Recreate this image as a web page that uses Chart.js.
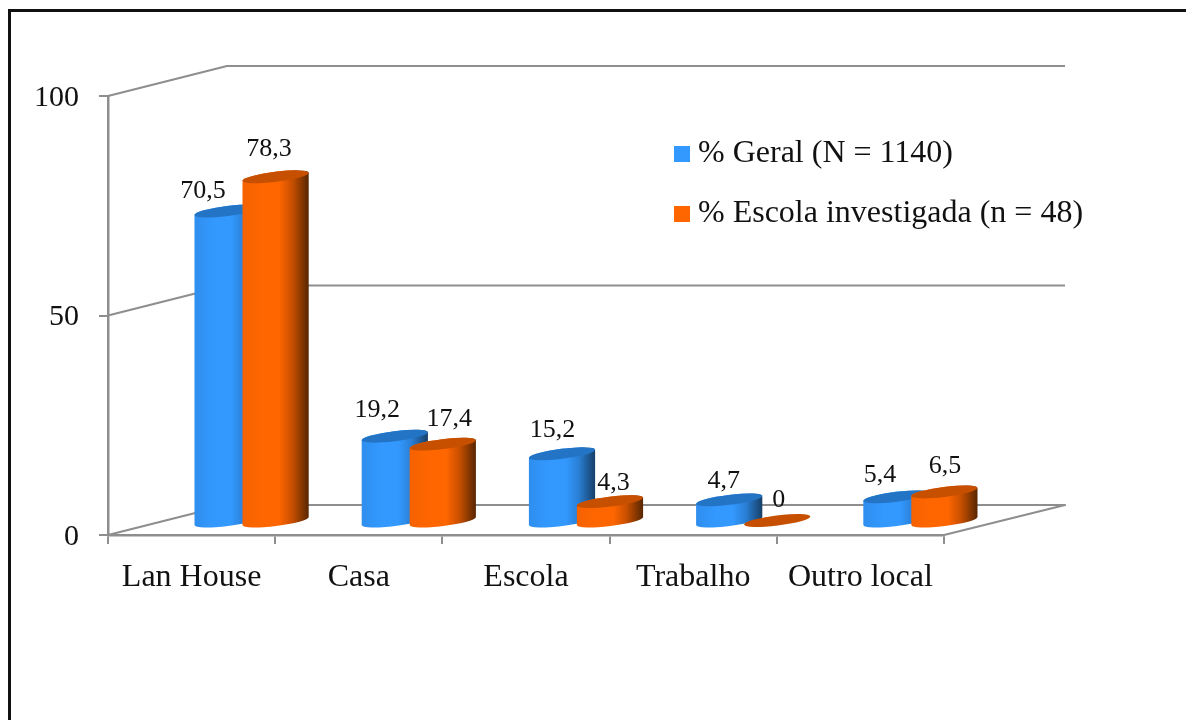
<!DOCTYPE html>
<html>
<head>
<meta charset="utf-8">
<style>
html,body{margin:0;padding:0;background:#fff;overflow:hidden}
#wrap{position:absolute;left:0;top:0;width:1186px;height:720px}
</style>
<script src="https://cdn.jsdelivr.net/npm/chart.js@4"></script>
</head>
<body>
<div id="wrap"><canvas id="c" width="1186" height="720"></canvas></div>
<script>
const categories = ["Lan House", "Casa", "Escola", "Trabalho", "Outro local"];
const geral = [70.5, 19.2, 15.2, 4.7, 5.4];
const escola = [78.3, 17.4, 4.3, 0, 6.5];
const seriesNames = ["% Geral (N = 1140)", "% Escola investigada (n = 48)"];
const tickValues = [0, 50, 100];

// manual nudges of the value labels, as placed in the original
const labelNudgeX = [[-24, -17, -9, -5, -16], [-6, 7, 4, 2, 1]];
const labelNudgeY = [[-19, -26, -23, -18, -21], [-27, -24, -18, -20, -25]];

const FONT = '"Liberation Serif","Times New Roman",serif';
const GREY = '#8e8e8e';
const DEPTH_X = 119, DEPTH_Y = -30;
const TILT = -7 * Math.PI / 180;
const MINOR = 5;

const looks = [
  {stops: ['#2f8eee', '#3399ff', '#3399ff', '#2a7fd6', '#163f66'], cap: '#2474c6'},
  {stops: ['#f56200', '#ff6600', '#ff6600', '#c84f00', '#572600'], cap: '#c65000'}
];

function cylinder(ctx, cx, yTop, yBase, a, look) {
  const ax = a * Math.cos(TILT);
  if (yBase - yTop > 0.5) {
    const g = ctx.createLinearGradient(cx - ax, 0, cx + ax, 0);
    [0, 0.3, 0.55, 0.75, 1].forEach((s, i) => g.addColorStop(s, look.stops[i]));
    ctx.beginPath();
    ctx.ellipse(cx, yBase, a, MINOR, TILT, 0, Math.PI);
    ctx.ellipse(cx, yTop, a, MINOR, TILT, Math.PI, 2 * Math.PI);
    ctx.closePath();
    ctx.fillStyle = g;
    ctx.fill();
  }
  ctx.beginPath();
  ctx.ellipse(cx, yTop, a, MINOR, TILT, 0, 2 * Math.PI);
  ctx.fillStyle = look.cap;
  ctx.fill();
}

const scene = {
  id: 'scene',
  beforeDraw(chart) {
    const ctx = chart.ctx;
    ctx.save();
    ctx.fillStyle = '#fff';
    ctx.fillRect(0, 0, chart.width, chart.height);
    ctx.strokeStyle = '#111';
    ctx.lineWidth = 3;
    ctx.beginPath();
    ctx.moveTo(9.5, 720);
    ctx.lineTo(9.5, 10.5);
    ctx.lineTo(1186, 10.5);
    ctx.stroke();
    ctx.restore();
  },
  afterLayout(chart) {
    const lg = chart.legend;
    lg.left = 654;
    lg.top = 110;
    lg.right = 1186;
    lg.bottom = 300;
  },
  beforeDatasetsDraw(chart) {
    const ctx = chart.ctx, y = chart.scales.y, area = chart.chartArea;
    ctx.save();
    ctx.strokeStyle = GREY;
    ctx.lineWidth = 2.2;
    ctx.lineJoin = 'round';
    tickValues.forEach(v => {
      const py = y.getPixelForValue(v);
      ctx.beginPath();
      ctx.moveTo(area.left, py);
      ctx.lineTo(area.left + DEPTH_X, py + DEPTH_Y);
      ctx.lineTo(1065, py + DEPTH_Y);
      if (v === 0) ctx.lineTo(area.right, py);
      ctx.stroke();
    });
    const baseY = y.getPixelForValue(0);
    for (let c = 0; c < categories.length; c++) {
      [0, 1].forEach(d => {
        const el = chart.getDatasetMeta(d).data[c];
        cylinder(ctx, el.x + DEPTH_X / 2 + 0.5, el.y + DEPTH_Y / 2 + 0.5, baseY + DEPTH_Y / 2 + 1, el.width / 2, looks[d]);
      });
    }
    ctx.fillStyle = '#111';
    ctx.font = '26px ' + FONT;
    ctx.textAlign = 'center';
    ctx.textBaseline = 'middle';
    [0, 1].forEach(d => {
      chart.getDatasetMeta(d).data.forEach((el, c) => {
        const v = chart.data.datasets[d].data[c];
        ctx.fillText(String(v).replace('.', ','),
          el.x + DEPTH_X / 2 + labelNudgeX[d][c],
          el.y + DEPTH_Y / 2 + labelNudgeY[d][c]);
      });
    });
    ctx.restore();
    return false;
  }
};

new Chart(document.getElementById('c'), {
  type: 'bar',
  data: {
    labels: categories,
    datasets: [
      {label: seriesNames[0], data: geral, backgroundColor: '#3399ff', borderWidth: 0, pointStyle: 'rect'},
      {label: seriesNames[1], data: escola, backgroundColor: '#ff6600', borderWidth: 0, pointStyle: 'rect'}
    ]
  },
  options: {
    responsive: false,
    animation: false,
    datasets: {bar: {categoryPercentage: 0.574, barPercentage: 1.39}},
    layout: {padding: {left: 0, right: 242, top: 96, bottom: 125}},
    plugins: {
      tooltip: {enabled: false},
      legend: {
        position: 'chartArea',
        align: 'start',
        labels: {
          usePointStyle: true,
          boxWidth: 0.01,
          boxHeight: 16,
          padding: 28,
          color: '#111',
          font: {family: FONT, size: 32}
        }
      }
    },
    scales: {
      x: {
        afterFit(s) { s.height = 60; },
        border: {color: GREY, width: 2.5},
        grid: {drawOnChartArea: false, drawTicks: true, tickLength: 9, color: GREY, lineWidth: 2},
        ticks: {color: '#111', font: {family: FONT, size: 32}, padding: 14, maxRotation: 0, autoSkip: false}
      },
      y: {
        min: 0, max: 100,
        afterFit(s) { s.width = 108; },
        border: {color: GREY, width: 2.5},
        grid: {drawOnChartArea: false, drawTicks: true, tickLength: 9, color: GREY, lineWidth: 2},
        afterBuildTicks(s) { s.ticks = tickValues.map(v => ({value: v})); },
        ticks: {color: '#111', font: {family: FONT, size: 30}, padding: 20, labelOffset: 2}
      }
    }
  },
  plugins: [scene]
});
</script>
</body>
</html>
